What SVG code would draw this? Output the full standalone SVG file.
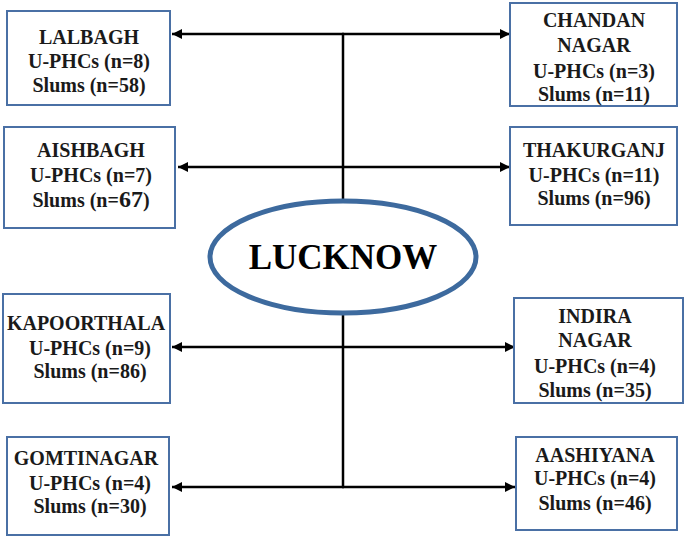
<svg xmlns="http://www.w3.org/2000/svg" width="685" height="537" viewBox="0 0 685 537">
<style>
.box{fill:#fff;stroke:#4a70a5;stroke-width:2}
.t{font-family:"Liberation Serif","Times New Roman",serif;font-weight:bold;font-size:20px;fill:#1a1a1a;text-anchor:middle}
.c{stroke:#000;stroke-width:2.5;fill:none}
</style>
<defs>
<marker id="ah" viewBox="0 0 10 10" refX="10" refY="5" markerWidth="12" markerHeight="10" markerUnits="userSpaceOnUse" orient="auto">
<path d="M0,0 L10,5 L0,10 z" fill="#000"/>
</marker>
</defs>
<rect width="685" height="537" fill="#fff"/>
<g id="connectors">
<line class="c" x1="343" y1="33" x2="343" y2="202" stroke-width="3"/>
<line class="c" x1="343" y1="312" x2="343" y2="488" stroke-width="3"/>
<line class="c" x1="344" y1="34" x2="172" y2="34" marker-end="url(#ah)"/>
<line class="c" x1="342" y1="34" x2="510" y2="34" marker-end="url(#ah)"/>
<line class="c" x1="344" y1="167" x2="178" y2="167" marker-end="url(#ah)"/>
<line class="c" x1="342" y1="167" x2="510" y2="167" marker-end="url(#ah)"/>
<line class="c" x1="344" y1="347" x2="172" y2="347" marker-end="url(#ah)"/>
<line class="c" x1="342" y1="347" x2="515" y2="347" marker-end="url(#ah)"/>
<line class="c" x1="344" y1="487" x2="172" y2="487" marker-end="url(#ah)"/>
<line class="c" x1="342" y1="487" x2="515" y2="487" marker-end="url(#ah)"/>
</g>
<g id="lucknow">
<ellipse cx="343" cy="257" rx="133" ry="56" fill="#fff" stroke="#3d6a9e" stroke-width="5"/>
<text x="343" y="269" class="t" style="font-size:35px;fill:#000">LUCKNOW</text>
</g>
<g id="lalbagh">
<rect class="box" x="7" y="11" width="163" height="94"/>
<text class="t" x="89" y="44">LALBAGH</text>
<text class="t" x="89" y="68">U-PHCs (n=8)</text>
<text class="t" x="89" y="92">Slums (n=58)</text>
</g>
<g id="aishbagh">
<rect class="box" x="4" y="127" width="171" height="101"/>
<text class="t" x="91" y="157">AISHBAGH</text>
<text class="t" x="91" y="182">U-PHCs (n=7)</text>
<text class="t" x="91" y="207">Slums (n=<tspan style="font-size:24px">67</tspan>)</text>
</g>
<g id="chandan-nagar">
<rect class="box" x="510" y="3" width="167" height="103"/>
<text class="t" x="594" y="27">CHANDAN</text>
<text class="t" x="594" y="52">NAGAR</text>
<text class="t" x="594" y="78">U-PHCs (n=3)</text>
<text class="t" x="594" y="101">Slums (n=11)</text>
</g>
<g id="thakurganj">
<rect class="box" x="510" y="127" width="167" height="98"/>
<text class="t" x="594" y="157">THAKURGANJ</text>
<text class="t" x="594" y="182">U-PHCs (n=11)</text>
<text class="t" x="594" y="205">Slums (n=96)</text>
</g>
<g id="kapoorthala">
<rect class="box" x="3" y="294" width="167" height="109"/>
<text class="t" x="86" y="330">KAPOORTHALA</text>
<text class="t" x="90" y="355">U-PHCs (n=9)</text>
<text class="t" x="90" y="378">Slums (n=86)</text>
</g>
<g id="gomtinagar">
<rect class="box" x="7" y="437" width="162" height="98"/>
<text class="t" x="86" y="465">GOMTINAGAR</text>
<text class="t" x="90" y="490">U-PHCs (n=4)</text>
<text class="t" x="90" y="513">Slums (n=30)</text>
</g>
<g id="indira-nagar">
<rect class="box" x="514" y="298" width="169" height="105"/>
<text class="t" x="595" y="323">INDIRA</text>
<text class="t" x="595" y="347">NAGAR</text>
<text class="t" x="595" y="373">U-PHCs (n=4)</text>
<text class="t" x="595" y="397">Slums (n=35)</text>
</g>
<g id="aashiyana">
<rect class="box" x="516" y="437" width="161" height="93"/>
<text class="t" x="595" y="462">AASHIYANA</text>
<text class="t" x="595" y="485">U-PHCs (n=4)</text>
<text class="t" x="595" y="510">Slums (n=46)</text>
</g>
</svg>
